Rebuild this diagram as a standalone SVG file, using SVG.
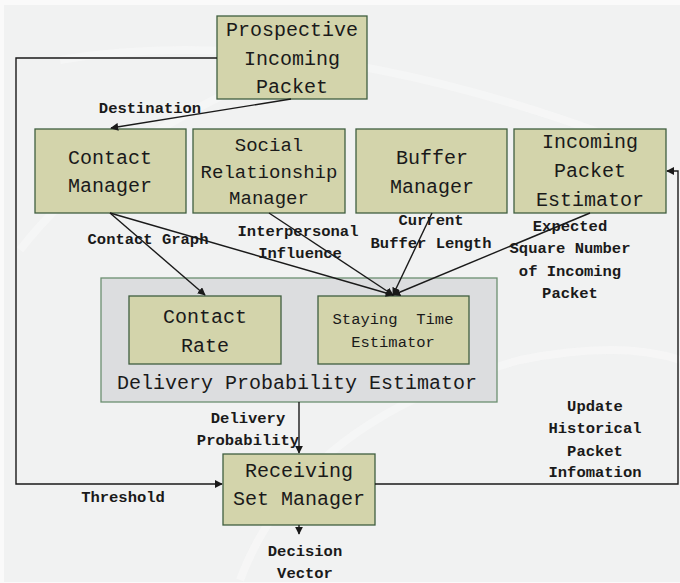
<svg xmlns="http://www.w3.org/2000/svg" width="680" height="583" viewBox="0 0 680 583">
  <defs>
    <marker id="arrow" viewBox="0 0 10 10" refX="9" refY="5" markerWidth="8" markerHeight="8" markerUnits="userSpaceOnUse" orient="auto">
      <path d="M0,0 L10,5 L0,10 z" fill="#1a1a1a"/>
    </marker>
    <style>
      .box { fill: #d3d4ab; stroke: #3f5f3f; stroke-width: 1.3; }
      .outer { fill: #dcdddf; stroke: #6c8f70; stroke-width: 1.3; }
      .node { font-family: "Liberation Mono", "DejaVu Sans Mono", monospace; font-size: 20px; fill: #1a1a1a; text-anchor: middle; }
      .small { font-size: 15.5px; }
      .lbl { font-family: "Liberation Mono", "DejaVu Sans Mono", monospace; font-size: 15.5px; font-weight: bold; fill: #1a1a1a; text-anchor: middle; }
      .wire { fill: none; stroke: #1a1a1a; stroke-width: 1.4; }
    </style>
  </defs>

  <!-- backdrop -->
  <rect x="0" y="0" width="680" height="583" fill="#fafafa"/>
  <rect x="4" y="5" width="676" height="577" fill="#f1f2f2"/>
  <g fill="none" stroke="#f8f8f8" stroke-width="8" opacity="0.7">
    <path d="M60,60 Q 300,20 620,140"/>
    <path d="M20,250 Q 120,120 360,40"/>
    <path d="M240,580 Q 300,420 520,360 Q 620,340 680,360"/>
  </g>

  <!-- nodes -->
  <g id="prospective-incoming-packet">
    <rect class="box" x="217" y="16" width="150" height="83"/>
    <text class="node" x="292" y="36">Prospective</text>
    <text class="node" x="292" y="65">Incoming</text>
    <text class="node" x="292" y="93">Packet</text>
  </g>
  <g id="contact-manager">
    <rect class="box" x="35" y="129" width="151" height="84"/>
    <text class="node" x="110" y="164">Contact</text>
    <text class="node" x="110" y="192">Manager</text>
  </g>
  <g id="social-relationship-manager">
    <rect class="box" x="193" y="129" width="152" height="84"/>
    <text class="node" x="269" y="151" style="font-size:19px">Social</text>
    <text class="node" x="269" y="178" style="font-size:19px">Relationship</text>
    <text class="node" x="269" y="204" style="font-size:19px">Manager</text>
  </g>
  <g id="buffer-manager">
    <rect class="box" x="356" y="129" width="151" height="84"/>
    <text class="node" x="432" y="164">Buffer</text>
    <text class="node" x="432" y="193">Manager</text>
  </g>
  <g id="incoming-packet-estimator">
    <rect class="box" x="514" y="129" width="152" height="84"/>
    <text class="node" x="590" y="148">Incoming</text>
    <text class="node" x="590" y="177">Packet</text>
    <text class="node" x="590" y="206">Estimator</text>
  </g>
  <g id="delivery-probability-estimator">
    <rect class="outer" x="101" y="278" width="396" height="124"/>
    <text class="node" x="297" y="389">Delivery Probability Estimator</text>
  </g>
  <g id="contact-rate">
    <rect class="box" x="129" y="296" width="152" height="68"/>
    <text class="node" x="205" y="323">Contact</text>
    <text class="node" x="205" y="352">Rate</text>
  </g>
  <g id="staying-time-estimator">
    <rect class="box" x="318" y="296" width="151" height="68"/>
    <text class="node small" x="393" y="324" xml:space="preserve">Staying  Time</text>
    <text class="node small" x="393" y="347">Estimator</text>
  </g>
  <g id="receiving-set-manager">
    <rect class="box" x="223" y="454" width="152" height="71"/>
    <text class="node" x="299" y="477">Receiving</text>
    <text class="node" x="299" y="505">Set Manager</text>
  </g>

  <!-- connectors -->
  <g id="connectors" class="wire">
    <polyline points="217,58 16,58 16,484 222,484" marker-end="url(#arrow)"/>
    <polyline points="375,484 678,484 678,171 667,171" marker-end="url(#arrow)"/>
    <line x1="291" y1="99" x2="111" y2="128" marker-end="url(#arrow)"/>
    <line x1="110" y1="213" x2="205" y2="295" marker-end="url(#arrow)"/>
    <line x1="110" y1="213" x2="393" y2="295" marker-end="url(#arrow)"/>
    <line x1="269" y1="213" x2="393" y2="295" marker-end="url(#arrow)"/>
    <line x1="432" y1="213" x2="393" y2="295" marker-end="url(#arrow)"/>
    <line x1="590" y1="213" x2="393" y2="295" marker-end="url(#arrow)"/>
    <line x1="299" y1="402" x2="299" y2="453" marker-end="url(#arrow)"/>
    <line x1="299" y1="525" x2="299" y2="534" marker-end="url(#arrow)"/>
  </g>

  <!-- connector labels -->
  <g id="labels">
    <text class="lbl" x="150" y="113">Destination</text>
    <text class="lbl" x="148" y="244">Contact Graph</text>
    <text class="lbl" x="298" y="236">Interpersonal</text>
    <text class="lbl" x="300" y="258">Influence</text>
    <text class="lbl" x="431" y="225">Current</text>
    <text class="lbl" x="431" y="248">Buffer Length</text>
    <text class="lbl" x="570" y="231">Expected</text>
    <text class="lbl" x="570" y="253">Square Number</text>
    <text class="lbl" x="570" y="276">of Incoming</text>
    <text class="lbl" x="570" y="298">Packet</text>
    <text class="lbl" x="248" y="423">Delivery</text>
    <text class="lbl" x="248" y="445">Probability</text>
    <text class="lbl" x="123" y="502">Threshold</text>
    <text class="lbl" x="305" y="556">Decision</text>
    <text class="lbl" x="305" y="578">Vector</text>
    <text class="lbl" x="595" y="411">Update</text>
    <text class="lbl" x="595" y="433">Historical</text>
    <text class="lbl" x="595" y="456">Packet</text>
    <text class="lbl" x="595" y="477">Infomation</text>
  </g>
</svg>
